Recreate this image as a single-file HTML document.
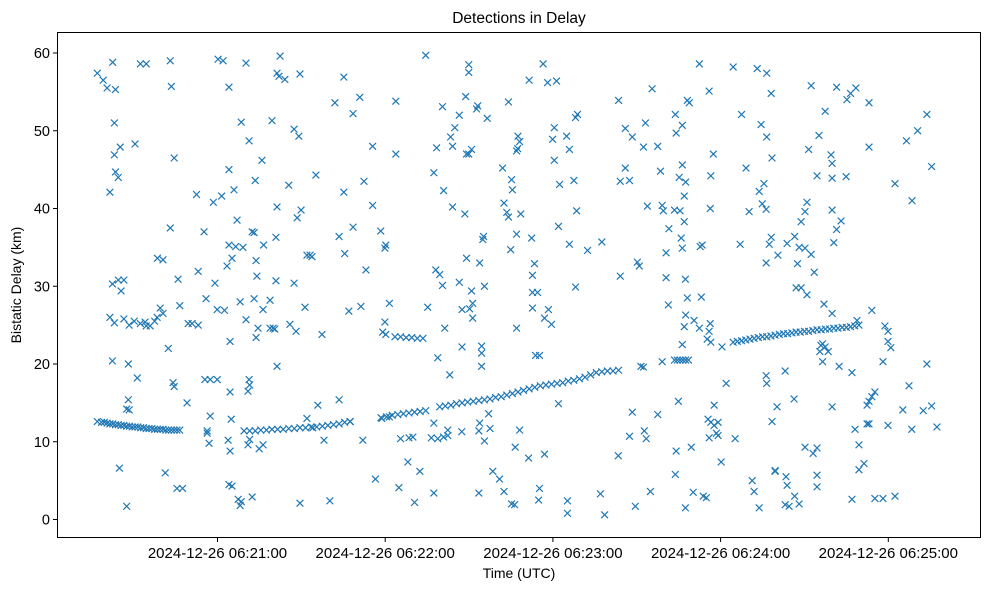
<!DOCTYPE html>
<html><head><meta charset="utf-8"><style>
html,body{margin:0;padding:0;background:#fff;}
svg{display:block;font-family:"Liberation Sans","DejaVu Sans",sans-serif;}
</style></head><body>
<svg id="chart" width="989" height="590" viewBox="0 0 989 590">
<rect x="0" y="0" width="989" height="590" fill="#fff"/>
<text x="519" y="23" text-anchor="middle" font-size="15.5" fill="#000">Detections in Delay</text>
<text x="519" y="578" text-anchor="middle" font-size="14" fill="#000">Time (UTC)</text>
<text x="0" y="0" transform="translate(21,285) rotate(-90)" text-anchor="middle" font-size="14" fill="#000">Bistatic Delay (km)</text>
<g id="marks"></g>
<g id="axes"></g>
<rect x="57.5" y="32.5" width="923" height="505" fill="none" stroke="#000" stroke-width="1"/>
</svg>
<script>
// time in seconds since 2024-12-26 06:19:54.5 UTC, delay in km
const trackTimes = [22.5,24,25,26,27,28,29,30,31,32,33,34,35,36,37,38,39,40,41,42,43,44,45,46,47,48,49,50,51,52,
75,77,79,81,83,85,87,89,91,93,95,97,99,101,103,105,107,109,111,113,
124,126,128,130,132,134,136,138,140,
129,131,133,135,137,139,
145,147,149,151,153,155,157,159,161,163,165,167,169,171,173,175,177,179,181,183,185,187,189,191,193,195,197,199,201,203,205,207,209,
229,230,231,232,233,234,
250,251.5,253,254.5,256,257.5,259,260.5,262,263.5,265,266.5,268,269.5,271,272.5,274,275.5,277,278.5,280,281.5,283,284.5,286,287.5,289,290.5,292,293.5,295];
const trackDelays = [12.6,12.5,12.5,12.4,12.3,12.3,12.2,12.2,12.1,12.1,12.0,12.0,11.9,11.9,11.9,11.8,11.8,11.7,11.7,11.7,11.6,11.6,11.6,11.6,11.5,11.5,11.5,11.5,11.5,11.5,
11.4,11.4,11.4,11.5,11.5,11.6,11.6,11.6,11.7,11.7,11.8,11.8,11.9,11.9,12.0,12.1,12.2,12.3,12.5,12.6,
13.1,13.2,13.4,13.5,13.6,13.7,13.8,13.9,14.0,
23.5,23.5,23.4,23.4,23.3,23.3,
14.5,14.6,14.7,14.9,15.0,15.1,15.2,15.3,15.4,15.5,15.7,15.8,16.0,16.2,16.4,16.6,16.8,17.0,17.2,17.3,17.4,17.5,17.6,17.8,17.9,18.1,18.3,18.6,18.9,19.0,19.1,19.1,19.2,
20.5,20.5,20.5,20.5,20.5,20.5,
22.8,22.9,23.0,23.1,23.2,23.3,23.4,23.5,23.5,23.6,23.7,23.8,23.9,23.9,24.0,24.1,24.1,24.2,24.2,24.3,24.4,24.4,24.5,24.5,24.6,24.6,24.7,24.7,24.8,24.9,25.0];
const scatterTimes = [22.5,24.6,26,28,29,27,28.6,28.6,29,30.7,30,27.9,30,31,32,27,28.6,27.9,32,33.9,33.6,33.6,33,33.9,30.4,33,
36,37.9,40,35.7,37.9,39.6,41.4,36.8,43,40,43.9,45,46,44,46,47.9,48.6,48.6,49,50,51.4,52,49.6,50,46.8,51,53,55,56.4,58.6,58,58.6,60.7,61.4,61,54.6,62.9,61.8,61.8,62.5,
65.7,67.5,69.6,64,67,69.6,71.4,74,76.8,75.7,79,81.4,64.6,65.4,68,68.9,70.7,69.6,72,74.6,72.5,77.9,78.6,79.3,79.6,82,73.6,78.6,75.7,80,79.3,81.8,70,62.9,65.4,70,76.4,76.8,77,70.4,69.3,70,69.6,70.7,72.9,74,73.6,77.9,76.4,77,80.4,81.8,86.8,84.3,85.4,86,84.3,86.4,86.4,86.8,85,86.8,87.5,87.9,89.6,91,92.9,94,95.4,92.9,91.4,93.6,95,96.8,97.5,99.3,94.6,95,100.7,98.6,102.9,101.4,97.5,103.6,105.7,99.6,
107.5,109,111,110.7,110.7,112.5,114,114,116.8,116.4,117.9,118.6,109,112.9,117.5,121,121,122,123.9,125.4,125.7,124.6,125.4,125.7,127,124.3,127,129.3,129.3,130.4,131,134,135.4,133.6,136,137.9,140,142.9,143.9,143.6,145,140.7,144.3,142.9,142,144.3,146.4,147.9,142.9,146,146.4,148.9,150.4,149.6,149.6,146,146.8,148.6,147.9,
152,153,153,152.9,152,154.6,155.4,155.4,155.4,154.3,154,154.6,156.4,156.8,156.8,158.6,158.2,156.4,160.4,160.7,159.3,161,160,160,160,159.3,161,159,159,162,155.7,164,162.5,163,167.5,168,169,169.6,170.7,171,169.6,172.5,172.5,172.9,173,173.6,170.4,174,172.5,166.4,168,170.7,171.8,173.6,172,176.8,177,182,183.6,186.8,177.9,178.2,178.9,178.2,178.2,180,179.3,180.7,182.5,183.9,185,187.5,187.9,186,185.4,186,191.4,190.4,191.4,193,194,193.6,194.3,193.6,180.7,180.4,182.5,187.5,190.7,190.7,197.9,
203,204,202.5,209,211.4,211.4,209.6,212.9,209.6,215.7,216.4,213.9,217.9,218.6,219.3,221,223,224,225,226,226,226.8,208.9,213.9,212.9,218.2,218.9,215,220.4,223,217,217.9,229.3,229.6,231.8,233.6,234.3,237.9,241.4,242.9,231.8,230.7,233,232.5,229,224.6,227,231,231.4,232.5,231.8,238.2,238.9,233.6,238.6,232.9,233,232.5,231.8,236,237.9,241.8,224.6,230.4,229.6,229.3,235,235.7,239.3,240.4,232.9,243.2,241,242,243.2,244,241.4,247.5,245.7,246,240.7,242,241.8,250,253,252.5,241.4,242,244.6,250.7,244.6,256.8,257.5,259.3,
258.6,262,263.6,260,262,263.9,254.6,261,260.4,261.8,255.7,259.3,262.9,263.6,266,261.8,272.5,261.8,262,265.7,263.9,265,268.6,270,268.6,269.3,273.6,276.4,275.7,277,277.9,280.7,282.9,280,274.3,272,275.7,273,277.9,279,274.3,276.4,281.4,282,271.8,265,268.9,269.3,272,273.6,275.7,278.6,280,280,280,285.4,282.5,285.4,287,290.7,292,293.9,285,285.4,285.4,285.4,290.4,286,288.6,287,282.9,281,282,284,287.9,292.5,293.6,295,292.5,297.9,298.6,298.6,298.6,299.6,294.3,300.7,298.6,299.6,295,296.8,297.9,300.7,
307.9,304.3,305.4,305.4,306.4,303.6,303.6,307.9,305.4,312.9,310.7,313.9,312,314,316,318,319.3,319.3,321,321,322.9];
const scatterDelays = [57.4,56.5,55.5,58.8,55.3,42.1,51,46.9,44.7,47.9,44,30.3,30.8,29.4,30.8,26,25.3,20.4,25.8,25,20,15.4,14.2,14.1,6.6,1.7,
48.3,58.6,58.6,25.5,25.2,25.4,24.9,18.2,25.5,24.9,26,27.2,26.5,33.6,33.4,22,37.5,59,55.7,46.5,30.9,27.5,17.6,17.1,6,4,4,25.2,25.2,25,41.8,31.9,37,28.4,18,15,13.3,11.4,11.1,9.8,
59.2,59,55.6,40.8,41.6,45,42.4,51.1,48.7,58.7,43.6,46.2,30.4,27,26.9,32.6,33.6,35.3,35.1,35,38.5,37,36.9,33.3,31.3,35.3,28,28.4,25.7,24.6,23.4,27,22.9,18,18,16.4,16.5,18,17.3,12.9,10.2,8.8,4.5,4.3,2.6,2.3,1.8,2.9,9.6,10.3,9.1,9.6,19.7,24.6,24.6,24.5,28.2,30.7,36.3,40.2,51.3,57.4,57,59.6,56.6,43,50.2,38.8,39.8,30.4,25.1,24.2,2.1,27.3,34,33.8,49.3,57.3,44.3,34,23.8,14.7,13,10.2,2.4,11.8,
53.6,36.4,34.2,56.9,42.1,26.8,52.2,37.6,27.4,54.3,43.5,32.1,15.4,12.6,10.2,48,40.4,5.2,37.1,34.9,35.3,24.1,25.4,23.8,27.8,13,13.2,53.8,47,4.1,10.4,10.5,10.6,7.4,2.2,6.2,59.7,44.6,47.8,32.1,31.5,27.3,20.8,12.4,10.5,10.4,10.6,10.8,3.4,53.1,42.3,49.2,50.4,48,40.2,30.1,24.6,18.6,11.5,
30.5,27,22.2,11.3,52,47,47,57.5,58.5,54.4,39.3,33.6,29.4,27.8,25.9,53.2,52.8,47.6,36,36.4,33,30,22.3,21.4,19.7,12.4,10.1,11.4,3.4,51.6,27.1,6.2,13.6,11.7,45.2,40.7,39.5,53.7,43.7,42.4,38.9,36.7,47.4,47.7,49.3,48.6,34.7,39.3,24.6,5.2,3.6,2,1.9,11.5,9.3,7.9,56.5,58.6,56.2,56.4,36.2,31.4,32.9,29.2,27.2,29.2,21.1,21.1,25.9,27,25.1,37.7,43.1,46.2,48.9,50.4,35.4,49.3,47.6,43.6,39.7,51.7,52.1,29.9,4,2.5,8.4,14.9,0.8,2.4,34.6,
35.7,0.6,3.3,53.9,50.3,45.2,43.5,43.6,31.3,33.1,32.6,49.2,47.9,51,40.3,55.4,48,44.8,39.7,34.3,31.1,27.6,8.2,13.8,10.7,11.4,10.4,1.7,3.6,13.5,19.7,19.6,52.1,49.7,50.7,53.9,53.6,58.6,55.1,47,45.6,44,43.4,41.6,39.8,40.4,37.4,39.7,36.2,38.3,34.9,35.1,35.3,28.5,28.6,30.9,26.3,24.8,22.5,25.6,24.6,25.2,20.3,15.2,8.8,5.8,9.3,3.5,3,2.8,1.5,14.7,12.9,12.5,12.1,11.1,10.5,17.5,7.4,22.2,23.2,44.2,40,58.2,52.1,35.4,24.2,22.8,12.5,10.4,10.8,5,3.6,1.5,
58,57.4,54.8,50.8,49.2,46.5,45.2,43.2,40.6,39.9,39.6,42.2,35.4,36.3,34,33,29.8,18.5,17.5,14.5,12.6,6.2,1.9,1.7,19.1,35.5,35,40.8,39.6,47.6,55.8,49.4,52.5,44.2,38.3,36.4,34.9,32.9,34.1,31.8,29.8,28.9,22.4,20.3,15.5,6.3,5.5,4.4,3,2,9.3,8.5,9.2,5.7,4.2,14.5,27.7,26.5,55.6,54,54.8,55.5,46.9,45.8,43.9,39.8,44.1,35.6,38.4,37.3,22.2,21.6,22.6,21.6,19.7,18.9,11.6,9.6,2.6,12.3,12.3,53.6,47.9,26.9,25.6,16.4,15.2,15.8,6.4,7.2,14.7,2.7,
43.2,24.9,24.2,22.9,22.1,20.3,2.7,3,12.1,17.2,14.1,11.6,48.7,41,50,14,20,52.1,14.6,45.4,11.9];
const yTicks = [0,10,20,30,40,50,60];
const xTickSeconds = [65.5,125.5,185.5,245.5,305.5];
const xTickLabels = ["2024-12-26 06:21:00","2024-12-26 06:22:00","2024-12-26 06:23:00","2024-12-26 06:24:00","2024-12-26 06:25:00"];

const NS = "http://www.w3.org/2000/svg";
function xScale(t){ return 217.5 + (t - 65.5) * 2.795; }
function yScale(d){ return 519.5 - d * 7.775; }
const marks = document.getElementById('marks');
const axes = document.getElementById('axes');
function mk(tag, attrs, parent){
  const e = document.createElementNS(NS, tag);
  for (const k in attrs) e.setAttribute(k, attrs[k]);
  parent.appendChild(e);
  return e;
}
function drawX(t, d){
  const cx = xScale(t), cy = yScale(d), r = 3.4;
  const p = mk('path', {d:`M${cx-r},${cy-r}L${cx+r},${cy+r}M${cx-r},${cy+r}L${cx+r},${cy-r}`, stroke:'#1f77b4', 'stroke-width':'1.2', fill:'none'}, marks);
  
  
}
for (let i = 0; i < scatterTimes.length; i++) drawX(scatterTimes[i], scatterDelays[i]);
for (let i = 0; i < trackTimes.length; i++) drawX(trackTimes[i], trackDelays[i]);

yTicks.forEach(v => {
  const y = yScale(v);
  const l = mk('line', {x1:53, x2:57.5, y1:y, y2:y, stroke:'#000', 'stroke-width':'1'}, axes);
  
  
  const t = mk('text', {x:50, y:y+5, 'text-anchor':'end', 'font-size':'14.5', fill:'#000'}, axes);
  t.textContent = String(v);
  
  
});
xTickSeconds.forEach((s, i) => {
  const x = xScale(s);
  const l = mk('line', {x1:x, x2:x, y1:537.5, y2:542, stroke:'#000', 'stroke-width':'1'}, axes);
  
  
  const t = mk('text', {x:x, y:558, 'text-anchor':'middle', 'font-size':'15', fill:'#000'}, axes);
  t.textContent = xTickLabels[i];
  
  
});
</script>
</body></html>
